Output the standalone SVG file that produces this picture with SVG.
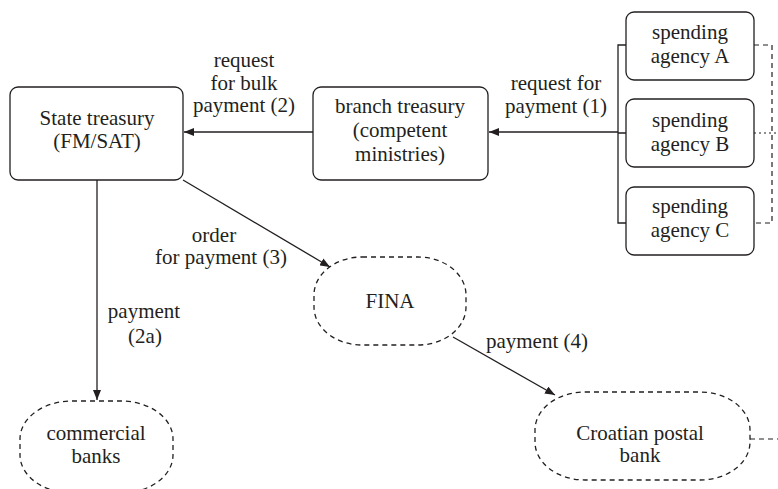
<svg xmlns="http://www.w3.org/2000/svg" width="778" height="489" viewBox="0 0 778 489" font-family="'Liberation Serif', 'Times New Roman', 'DejaVu Serif', serif">
<style>
text{font-family:'Liberation Serif','Times New Roman','DejaVu Serif',serif;font-size:21px;fill:#231f20;text-anchor:middle}
.box{fill:#fff;stroke:#231f20;stroke-width:1.3}
.dbox{fill:#fff;stroke:#231f20;stroke-width:1.3;stroke-dasharray:5 4}
.ln{fill:none;stroke:#231f20;stroke-width:1.3}
.dl{fill:none;stroke:#231f20;stroke-width:1.2;stroke-dasharray:5 4}
.dt{fill:none;stroke:#231f20;stroke-width:1.2;stroke-dasharray:2 3}
</style>
<defs>
<marker id="ah" viewBox="0 0 10 8" refX="10" refY="4" markerWidth="10" markerHeight="8" markerUnits="userSpaceOnUse" orient="auto">
<path d="M0,0 L10,4 L0,8 Z" fill="#231f20"/>
</marker>
</defs>
<rect width="778" height="489" fill="#fff"/>
<g id="connectors">
<path class="ln" d="M626,45 H618 V223 H626 M618,133 H626"/>
<line class="ln" x1="618" y1="132" x2="489" y2="132" marker-end="url(#ah)"/>
<line class="ln" x1="313" y1="132" x2="184" y2="132" marker-end="url(#ah)"/>
<line class="ln" x1="97" y1="180" x2="97" y2="400" marker-end="url(#ah)"/>
<line class="ln" x1="183" y1="180" x2="330" y2="267" marker-end="url(#ah)"/>
<line class="ln" x1="453" y1="337" x2="555" y2="395" marker-end="url(#ah)"/>
<path class="dl" d="M754,45 H772 V223 H754"/>
<line class="dt" x1="754" y1="133" x2="778" y2="133"/>
<line class="dl" x1="750" y1="439" x2="778" y2="439"/>
<text x="244" y="67">request</text>
<text x="244" y="90">for bulk</text>
<text x="244" y="112">payment (2)</text>
<text x="556" y="90">request for</text>
<text x="556" y="113">payment (1)</text>
<text x="214" y="242">order</text>
<text x="221" y="264">for payment (3)</text>
<text x="144" y="318">payment</text>
<text x="145" y="343">(2a)</text>
<text x="537" y="348">payment (4)</text>
</g>
<g id="state-treasury">
<rect class="box" x="10" y="87" width="173" height="93" rx="8"/>
<text x="97" y="125">State treasury</text>
<text x="97" y="148">(FM/SAT)</text>
</g>
<g id="branch-treasury">
<rect class="box" x="313" y="87" width="175" height="93" rx="8"/>
<text x="400" y="113">branch treasury</text>
<text x="400" y="137">(competent</text>
<text x="400" y="161">ministries)</text>
</g>
<g id="agency-a">
<rect class="box" x="626" y="12" width="128" height="68" rx="8"/>
<text x="690" y="39">spending</text>
<text x="690" y="63">agency A</text>
</g>
<g id="agency-b">
<rect class="box" x="626" y="99" width="128" height="68" rx="8"/>
<text x="690" y="127">spending</text>
<text x="690" y="151">agency B</text>
</g>
<g id="agency-c">
<rect class="box" x="626" y="187" width="128" height="68" rx="8"/>
<text x="690" y="213">spending</text>
<text x="690" y="237">agency C</text>
</g>
<g id="fina">
<rect class="dbox" x="314" y="257" width="152" height="88" rx="48" ry="38"/>
<text x="390" y="308">FINA</text>
</g>
<g id="commercial-banks">
<rect class="dbox" x="20" y="401" width="153" height="92" rx="52" ry="38"/>
<text x="96" y="440">commercial</text>
<text x="96" y="463">banks</text>
</g>
<g id="croatian-postal-bank">
<rect class="dbox" x="535" y="392" width="215" height="88" rx="50" ry="38"/>
<text x="640" y="440">Croatian postal</text>
<text x="640" y="462">bank</text>
</g>
</svg>
